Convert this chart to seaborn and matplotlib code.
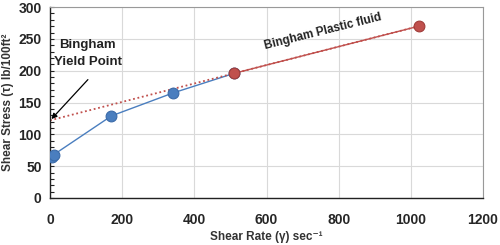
import numpy as np
import pandas as pd
import matplotlib
matplotlib.use('Agg')
import matplotlib.pyplot as plt
import seaborn as sns
from matplotlib.ticker import MultipleLocator

# viscometer readings
shear_rate = [5.11, 10.22, 170.3, 340.6, 510.9, 1021.8]
shear_stress = [65, 68, 129, 165, 196, 270]
bingham_x = [510.9, 1021.8]
bingham_y = [196, 270]
trend_x = [0, 1021.8]
trend_y = [122, 270]

sns.set_style('whitegrid')
plt.rcParams['font.family'] = ['Liberation Sans', 'DejaVu Sans']

fig = plt.figure(figsize=(5, 2.45), dpi=100)
ax = fig.add_axes([0.1, 0.192, 0.866, 0.779])

blue = '#4a7ebf'
red = '#c0504d'

df = pd.DataFrame({'rate': shear_rate[:5], 'stress': shear_stress[:5]})
sns.lineplot(data=df, x='rate', y='stress', color=blue, lw=1, ax=ax)
sns.scatterplot(data=df, x='rate', y='stress', color=blue, s=60, edgecolor='#3a6aa8', linewidth=0.8, zorder=4, ax=ax)

sns.lineplot(x=trend_x, y=trend_y, color=red, lw=1.3, linestyle=(0, (1, 1.5)), ax=ax)
sns.lineplot(x=bingham_x, y=bingham_y, color=red, lw=1, ax=ax)
sns.scatterplot(x=bingham_x, y=bingham_y, color=red, s=60, edgecolor='#a03c39', linewidth=0.8, zorder=4, ax=ax)

ax.set_xlim(0, 1200)
ax.set_ylim(0, 300)
ax.xaxis.set_major_locator(MultipleLocator(200))
ax.yaxis.set_major_locator(MultipleLocator(50))
ax.yaxis.set_minor_locator(MultipleLocator(10))
ax.tick_params(axis='y', which='both', left=True, direction='in', length=3, width=0.8, color='#222222', pad=6)
ax.tick_params(axis='x', bottom=False, pad=7)
ax.grid(True, color='#d9d9d9', lw=0.8)
for lbl in ax.get_xticklabels() + ax.get_yticklabels():
    lbl.set_fontweight('bold')
    lbl.set_fontsize(10)
for s in ['top', 'right']:
    ax.spines[s].set_color('#999999')
    ax.spines[s].set_linewidth(0.8)
for s in ['left', 'bottom']:
    ax.spines[s].set_color('#222222')
    ax.spines[s].set_linewidth(1)

ax.set_xlabel('Shear Rate (γ) sec⁻¹', fontsize=8.5, fontweight='bold', labelpad=3, color='#333333')
ax.set_ylabel('Shear Stress (τ) lb/100ft²', fontsize=8.5, fontweight='bold', labelpad=3, color='#333333')

ax.text(105, 227, 'Bingham\nYield Point', fontsize=9.5, fontweight='bold',
        ha='center', va='center', linespacing=1.5, color='#222222')
ax.annotate('', xy=(4, 124), xytext=(105, 186),
            arrowprops=dict(arrowstyle='-|>', color='black', lw=0.9, shrinkA=0, shrinkB=0, mutation_scale=8))

ax.text(757, 261, 'Bingham Plastic fluid', fontsize=8.5, fontweight='bold',
        rotation=14, ha='center', va='center', color='#222222')

fig.savefig('out.png', dpi=100)
